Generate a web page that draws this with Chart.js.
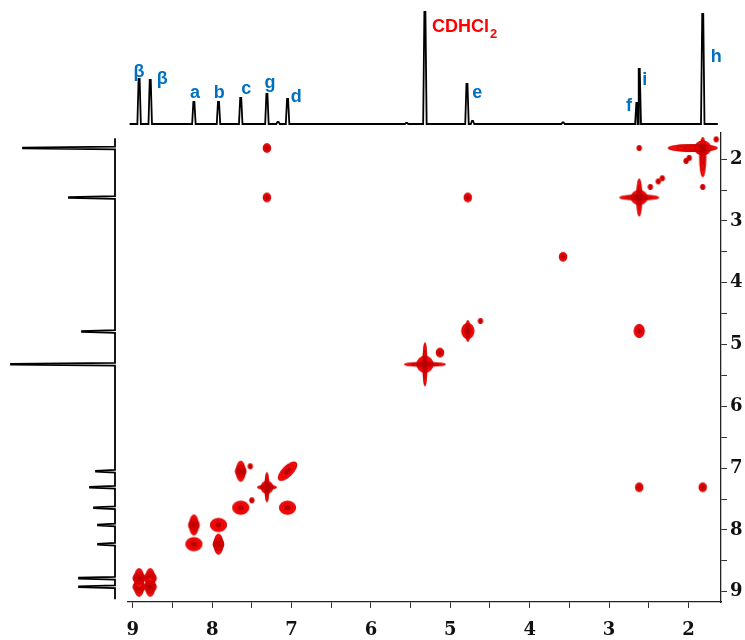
<!DOCTYPE html>
<html lang="en">
<head>
<meta charset="utf-8">
<title>2D NMR spectrum</title>
<script src="https://cdn.jsdelivr.net/npm/chart.js@4.4.1/dist/chart.umd.min.js"></script>
<style>
  html, body { margin: 0; padding: 0; background: #fff; }
  #wrap { position: relative; width: 745px; height: 640px; }
  #wrap canvas { position: absolute; left: 0; top: 0; }
</style>
</head>
<body>
<div id="wrap">
  <canvas id="main" width="745" height="640" style="width:745px;height:640px"></canvas>
  <canvas id="top" width="745" height="132" style="width:745px;height:132px"></canvas>
  <canvas id="side" width="128" height="640" style="width:128px;height:640px"></canvas>
</div>

<script>
// ---- data ----

// top projection: chemical shift (ppm) and peak height
const topShifts  = [8.92, 8.78, 8.23, 7.92, 7.64, 7.31, 7.17, 7.05, 5.55, 5.32, 4.79, 4.72, 3.58, 2.65, 2.62, 1.82];
const topHeights = [45, 44, 22, 22, 26, 30, 2, 25, 1, 112, 40, 3, 1.5, 21, 55, 110];

// left projection
const sideShifts  = [1.82, 2.62, 4.79, 5.32, 7.05, 7.31, 7.64, 7.92, 8.23, 8.78, 8.92];
const sideHeights = [92, 46, 33, 104, 19, 25, 21, 17, 17, 36, 36];

// peak labels on the top trace
const topLabels     = ['β', 'β', 'a', 'b', 'c', 'g', 'd', 'e', 'f', 'i', 'h'];
const topLabelPpm   = [8.92, 8.63, 8.215, 7.91, 7.57, 7.27, 6.94, 4.66, 2.75, 2.55, 1.65];
const topLabelLevel = [52, 45, 31, 31, 35, 41, 27, 31, 18, 44, 67];
const solventPpm = 5.23, solventLevel = 97;

// 2D cross/diagonal peaks: F2 (x), F1 (y), contour shape
const peakF2 = [8.92, 8.78, 8.92, 8.78, 8.23, 7.92, 8.23, 7.92, 7.64, 7.05, 7.64, 7.31, 7.05, 7.50, 7.52,
                5.32, 5.13, 4.78, 4.62, 3.58, 2.62, 4.78, 7.31, 2.62, 7.31, 1.82,
                2.62, 1.82, 2.62, 1.82, 2.38, 2.33, 2.48, 2.03, 1.99, 1.65];
const peakF1 = [8.92, 8.78, 8.78, 8.92, 8.23, 7.92, 7.92, 8.23, 7.64, 7.64, 7.05, 7.31, 7.05, 7.52, 6.97,
                5.32, 5.13, 4.78, 4.62, 3.58, 4.78, 2.62, 2.62, 7.31, 1.82, 7.31,
                2.62, 1.82, 1.82, 2.45, 2.36, 2.31, 2.45, 2.03, 1.98, 1.68];
const peakShape = ['beta', 'beta', 'beta', 'beta', 'wblob', 'wblob', 'vblob', 'vblob', 'wblob', 'wblob', 'vblob', 'star', 'dtilt', 'sdot', 'sdot',
                   'bigstar', 'dot', 'eblob', 'sdot', 'dot', 'eblob2', 'dot', 'dot', 'dot', 'dot', 'dot',
                   'istar', 'hstar', 'sdot', 'sdot', 'sdot', 'sdot', 'sdot', 'sdot', 'sdot', 'sdot'];

// axis ranges
const ppmLeft = 9.06, ppmRight = 1.59;   // F2
const ppmTop = 1.577, ppmBottom = 9.166;  // F1

// ---- contour look: ellipses [dx, dy, rx, ry, rotation] in px ----
const SHAPES = {
  dot:     [[0, 0, 4.2, 4.7, 0]],
  sdot:    [[0, 0, 2.6, 3, 0]],
  beta:    [[0, 0, 5, 10, 0], [0, 0, 6.5, 6, 0]],
  wblob:   [[0, 0, 8.5, 7, 0]],
  vblob:   [[0, 0, 4.8, 10.5, 0], [0, 0, 5.8, 6.5, 0]],
  star:    [[0, 0, 10, 2.5, 0], [0, 0, 2.5, 15, 0], [0, 0, 6.5, 6.5, 0]],
  dtilt:   [[0, 0, 12.5, 5.5, -Math.PI / 4]],
  bigstar: [[0, 0, 21, 2.5, 0], [0, 0, 2.5, 22, 0], [0, 0, 8.5, 8.5, 0]],
  eblob:   [[0, 0, 6.5, 8, 0], [0, 0, 2.5, 11, 0]],
  eblob2:  [[0, 0, 5.5, 7, 0]],
  istar:   [[0, 0, 20, 3, 0], [0, 0, 3, 19, 0], [0, 0, 8.5, 7.5, 0]],
  hstar:   [[-10, 0, 25, 4, 0], [0, 9, 3.5, 20, 0], [0, 0, 8.5, 7.5, 0]]
};

function makeBlob(parts) {
  let ext = 0;
  parts.forEach(([dx, dy, rx, ry]) => {
    ext = Math.max(ext, Math.abs(dx) + Math.max(rx, ry), Math.abs(dy) + Math.max(rx, ry));
  });
  const size = Math.ceil(ext * 2 + 4);
  const c = document.createElement('canvas');
  c.width = c.height = size;
  const g = c.getContext('2d');
  const m = size / 2;
  parts.forEach(([dx, dy, rx, ry, rot]) => {
    g.beginPath();
    g.ellipse(m + dx, m + dy, rx, ry, rot, 0, Math.PI * 2);
    g.fillStyle = '#ff0a0a';
    g.fill();
  });
  parts.forEach(([dx, dy, rx, ry, rot]) => {
    [1, 0.68, 0.4].forEach(k => {
      g.beginPath();
      g.ellipse(m + dx, m + dy, Math.max(rx * k - 0.5, 0.6), Math.max(ry * k - 0.5, 0.6), rot, 0, Math.PI * 2);
      g.strokeStyle = 'rgba(170,0,0,0.6)';
      g.lineWidth = 1;
      g.stroke();
    });
  });
  const core = parts[parts.length - 1];
  g.beginPath();
  g.ellipse(m, m, Math.max(core[2] * 0.35, 1), Math.max(core[3] * 0.35, 1), core[4], 0, Math.PI * 2);
  g.fillStyle = '#b80000';
  g.fill();
  return c;
}
const blobImages = {};
Object.keys(SHAPES).forEach(k => { blobImages[k] = makeBlob(SHAPES[k]); });

// build a stick-like trace from peak lists (narrow flat-topped peaks)
function buildTrace(shifts, heights, from, to, halfWidth) {
  const pts = [{ s: from, v: 0 }, { s: to, v: 0 }];
  shifts.forEach((s, i) => {
    pts.push({ s: s + halfWidth, v: 0 },
             { s: s + halfWidth * 0.3, v: heights[i] },
             { s: s - halfWidth * 0.3, v: heights[i] },
             { s: s - halfWidth, v: 0 });
  });
  pts.sort((p, q) => q.s - p.s);
  return pts;
}

const tickFont = { family: 'DejaVu Serif', size: 18, weight: 'bold' };

// ---- main 2D map ----
new Chart(document.getElementById('main'), {
  type: 'scatter',
  data: {
    datasets: [{
      data: peakF2.map((x, i) => ({ x: x, y: peakF1[i] })),
      pointStyle: ctx => blobImages[peakShape[ctx.dataIndex]],
      pointRadius: 6
    }]
  },
  options: {
    responsive: false,
    animation: false,
    events: [],
    layout: { padding: { left: 128, top: 133, right: 0, bottom: 0 } },
    plugins: { legend: { display: false }, tooltip: { enabled: false } },
    scales: {
      x: {
        type: 'linear', position: 'bottom', reverse: true,
        min: ppmRight, max: ppmLeft,
        afterFit: s => { s.height = 38; },
        border: { display: true, color: '#222', width: 1.3 },
        grid: { drawOnChartArea: false, drawTicks: true, tickLength: 6, color: '#333' },
        ticks: {
          stepSize: 0.5, includeBounds: false, autoSkip: false, maxRotation: 0,
          padding: 12, color: '#111', font: tickFont,
          callback: v => Number.isInteger(v) ? String(v) : ''
        }
      },
      y: {
        type: 'linear', position: 'right', reverse: true,
        min: ppmTop, max: ppmBottom,
        afterFit: s => { s.width = 24; },
        border: { display: true, color: '#222', width: 1.3 },
        grid: { drawOnChartArea: false, drawTicks: true, tickLength: 6, color: '#333' },
        ticks: {
          stepSize: 0.5, includeBounds: false, autoSkip: false,
          padding: 3, color: '#111', font: tickFont,
          callback: v => Number.isInteger(v) ? String(v) : ''
        }
      }
    }
  }
});

// ---- top 1D trace ----
const topLabelPlugin = {
  id: 'topLabels',
  afterDatasetsDraw(chart) {
    const { ctx, scales: { x, y } } = chart;
    ctx.save();
    ctx.font = 'bold 18px "Liberation Sans", Arial, sans-serif';
    ctx.textAlign = 'center';
    ctx.textBaseline = 'middle';
    ctx.fillStyle = '#0070c0';
    topLabels.forEach((t, i) => {
      ctx.fillText(t, x.getPixelForValue(topLabelPpm[i]), y.getPixelForValue(topLabelLevel[i]));
    });
    ctx.fillStyle = '#ff0000';
    ctx.textAlign = 'left';
    const sx = x.getPixelForValue(solventPpm), sy = y.getPixelForValue(solventLevel);
    ctx.fillText('CDHCl', sx, sy);
    const w = ctx.measureText('CDHCl').width;
    ctx.font = 'bold 13px "Liberation Sans", Arial, sans-serif';
    ctx.fillText('2', sx + w + 1, sy + 7);
    ctx.restore();
  }
};

new Chart(document.getElementById('top'), {
  type: 'scatter',
  data: {
    datasets: [{
      data: buildTrace(topShifts, topHeights, 9.04, 1.63, 0.022).map(p => ({ x: p.s, y: p.v })),
      showLine: true, pointRadius: 0, borderColor: '#000', borderWidth: 1.8, tension: 0
    }]
  },
  options: {
    responsive: false,
    animation: false,
    events: [],
    layout: { padding: { left: 128, right: 24, top: 9, bottom: 5 } },
    plugins: { legend: { display: false }, tooltip: { enabled: false } },
    scales: {
      x: { type: 'linear', reverse: true, min: ppmRight, max: ppmLeft, display: false },
      y: { type: 'linear', min: -3, max: 115, display: false }
    }
  },
  plugins: [topLabelPlugin]
});

// ---- left 1D trace ----
new Chart(document.getElementById('side'), {
  type: 'scatter',
  data: {
    datasets: [{
      data: buildTrace(sideShifts, sideHeights, 1.66, 9.12, 0.022).map(p => ({ x: p.v, y: p.s })),
      showLine: true, pointRadius: 0, borderColor: '#000', borderWidth: 1.8, tension: 0
    }]
  },
  options: {
    responsive: false,
    animation: false,
    events: [],
    layout: { padding: { left: 10, right: 11, top: 133, bottom: 38 } },
    plugins: { legend: { display: false }, tooltip: { enabled: false } },
    scales: {
      x: { type: 'linear', reverse: true, min: -2, max: 105, display: false },
      y: { type: 'linear', reverse: true, min: ppmTop, max: ppmBottom, display: false }
    }
  }
});
</script>
</body>
</html>
